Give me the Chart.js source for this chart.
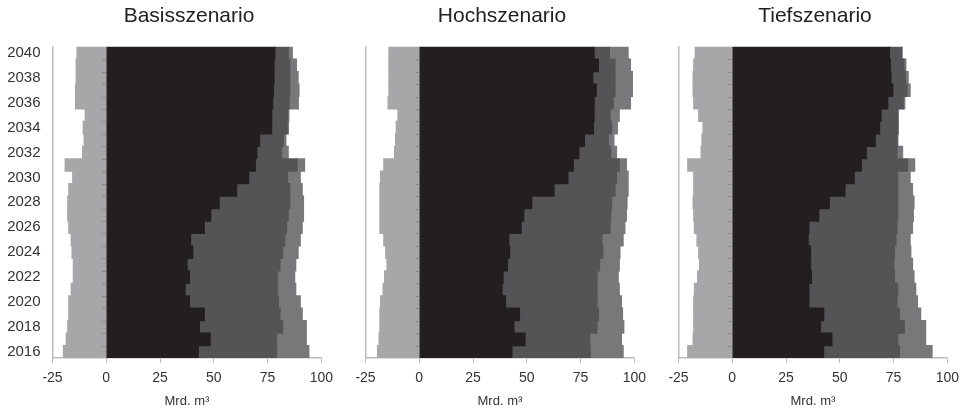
<!DOCTYPE html>
<html>
<head>
<meta charset="utf-8">
<script src="https://cdn.jsdelivr.net/npm/chart.js"></script>
<style>
body { margin: 0; background: #fff; }
#wrap { position: relative; width: 971px; height: 409px; font-family: "Liberation Sans", Arial, sans-serif; }
.panel { position: absolute; top: 0; width: 340px; height: 409px; }
.title { position: absolute; top: 3px; width: 272px; text-align: center; font-size: 21px; line-height: 24px; color: #222; }
</style>
</head>
<body>
<div id="wrap">
  <div class="panel" style="left:0px"><canvas id="chart1"></canvas></div>
  <div class="panel" style="left:313px"><canvas id="chart2"></canvas></div>
  <div class="panel" style="left:626px"><canvas id="chart3"></canvas></div>
  <div class="title" style="left:53px">Basisszenario</div>
  <div class="title" style="left:366px">Hochszenario</div>
  <div class="title" style="left:679px">Tiefszenario</div>
</div>
<script>
const years = ['2016','2017','2018','2019','2020','2021','2022','2023','2024','2025','2026','2027','2028',
    '2029','2030','2031','2032','2033','2034','2035','2036','2037','2038','2039','2040'];
const xTicks = [-25, 0, 25, 50, 75, 100];

// Basisszenario
const basisNeg   = [-19.9,-18.6,-17.9,-17.4,-17.4,-16.3,-15.3,-15.3,-15.9,-16.3,-17.4,-17.9,-17.9,
    -17.4,-15.6,-19.1,-11.0,-10.3,-10.7,-9.8,-14.3,-14.3,-14.0,-14.0,-13.6];
const basisBlack = [42.8,48.3,43.3,45.6,38.7,36.7,38.7,37.6,40.2,39.2,45.6,48.6,52.5,
    60.6,66.2,69.3,70.0,71.3,76.9,76.9,77.4,77.7,78.0,78.0,78.4];
const basisDark  = [36.4,30.9,38.7,35.2,41.3,42.8,40.8,43.2,41.8,43.8,38.2,36.0,32.8,
    24.7,18.1,19.4,11.5,11.0,7.2,7.4,7.6,7.6,7.3,7.3,6.2];
const basisMid   = [15.0,13.8,11.0,10.3,10.2,8.6,8.1,7.3,7.2,7.2,7.3,7.1,6.4,
    5.8,5.9,3.5,3.1,1.2,0.6,0.6,4.3,4.3,3.9,3.1,1.9];

// Hochszenario
const hochNeg   = [-19.4,-18.7,-18.3,-18.3,-18.0,-16.8,-16.1,-15.0,-15.6,-16.5,-18.3,-18.3,-18.3,
    -18.3,-18.0,-16.5,-11.5,-11.0,-10.7,-9.9,-14.5,-14.1,-14.1,-14.1,-14.1];
const hochBlack = [43.1,49.2,44.0,46.6,40.1,38.5,39.0,41.0,42.0,41.6,47.4,48.6,52.3,
    62.7,69.1,71.6,74.2,76.8,81.0,81.3,81.3,82.3,80.7,83.3,81.3];
const hochDark  = [36.4,30.0,38.6,36.7,42.5,44.1,43.6,42.8,43.3,43.3,41.3,40.4,37.1,
    28.3,22.6,21.4,14.8,11.1,8.4,7.4,8.9,8.7,10.3,7.7,7.1];
const hochMid   = [15.3,14.8,12.5,11.2,11.4,10.4,9.9,9.2,8.0,9.9,6.9,7.3,7.2,
    6.1,5.4,3.3,2.7,2.6,2.7,4.3,8.0,8.1,8.1,7.2,8.7];

// Tiefszenario
const tiefNeg   = [-20.7,-18.2,-17.9,-17.9,-17.9,-17.6,-16.1,-15.2,-15.6,-16.4,-17.6,-17.9,-18.2,
    -17.9,-17.9,-20.7,-14.5,-14.1,-13.6,-15.6,-17.9,-18.2,-18.2,-17.9,-17.2];
const tiefBlack = [42.5,46.3,41.0,42.5,35.6,35.6,36.8,36.4,36.4,35.3,35.6,40.2,45.1,
    52.4,56.7,60.0,62.3,66.5,68.5,69.2,72.3,74.6,73.8,73.5,73.1];
const tiefDark  = [35.2,30.6,39.0,35.2,41.0,41.3,38.6,38.7,39.0,40.8,41.0,36.7,31.8,
    24.5,20.2,21.5,14.3,10.1,8.4,7.7,7.2,6.6,6.7,6.3,5.6];
const tiefMid   = [15.2,13.0,9.9,9.9,9.5,8.4,9.1,8.7,7.6,6.6,7.2,7.3,7.6,
    6.9,5.8,3.3,2.6,0.4,0.3,0.3,0.7,1.5,1.3,0.9,0.3];

const zeroTicks = {
    id: 'zeroTicks',
    afterDatasetsDraw(chart) {
        const {ctx, scales: {x, y}} = chart;
        const x0 = x.getPixelForValue(0);
        ctx.save();
        ctx.strokeStyle = '#8a8a8a';
        ctx.lineWidth = 1;
        for (let i = 1; i < years.length; i++) {
            const py = Math.round(y.getPixelForValue(i - 0.5)) + 0.5;
            ctx.beginPath();
            ctx.moveTo(x0 - 4, py);
            ctx.lineTo(x0, py);
            ctx.stroke();
        }
        ctx.restore();
    }
};

function makePanel(id, neg, black, dark, mid, showYears) {
    new Chart(document.getElementById(id), {
        type: 'bar',
        data: {
            labels: years,
            datasets: [
                { data: neg, backgroundColor: '#a7a7a9' },
                { data: black, backgroundColor: '#231f20' },
                { data: dark, backgroundColor: '#545456' },
                { data: mid, backgroundColor: '#78787a' }
            ]
        },
        options: {
            indexAxis: 'y',
            responsive: true,
            maintainAspectRatio: false,
            animation: false,
            datasets: {
                bar: { barPercentage: 1, categoryPercentage: 1, borderWidth: 0, inflateAmount: 0.6 }
            },
            layout: { padding: { top: 46.7, right: 15, left: 0, bottom: 0 } },
            scales: {
                x: {
                    stacked: true,
                    min: -25,
                    max: 100,
                    afterBuildTicks: scale => { scale.ticks = xTicks.map(v => ({ value: v })); },
                    afterFit: scale => { scale.height = 51; },
                    grid: { drawOnChartArea: false, drawTicks: true, tickLength: 5, color: '#bdbdbd' },
                    border: { display: true, color: '#bdbdbd', width: 1.5 },
                    ticks: { color: '#333', font: { family: 'Liberation Sans', size: 14 }, padding: 7, maxRotation: 0 },
                    title: {
                        display: true,
                        text: 'Mrd. m³',
                        color: '#333',
                        font: { family: 'Liberation Sans', size: 13 },
                        padding: { top: 0, bottom: 0 }
                    }
                },
                y: {
                    stacked: true,
                    reverse: true,
                    afterFit: scale => { scale.width = 52.5; },
                    grid: { display: false, drawTicks: false },
                    border: { display: true, color: '#bdbdbd', width: 1.5 },
                    ticks: {
                        display: showYears,
                        autoSkip: false,
                        padding: 12,
                        color: '#333',
                        font: { family: 'Liberation Sans', size: 15 },
                        callback: (v, i) => (i % 2 === 0 ? years[i] : '')
                    }
                }
            },
            plugins: {
                legend: { display: false },
                tooltip: { enabled: false }
            }
        },
        plugins: [zeroTicks]
    });
}

makePanel('chart1', basisNeg, basisBlack, basisDark, basisMid, true);
makePanel('chart2', hochNeg, hochBlack, hochDark, hochMid, false);
makePanel('chart3', tiefNeg, tiefBlack, tiefDark, tiefMid, false);
</script>
</body>
</html>
